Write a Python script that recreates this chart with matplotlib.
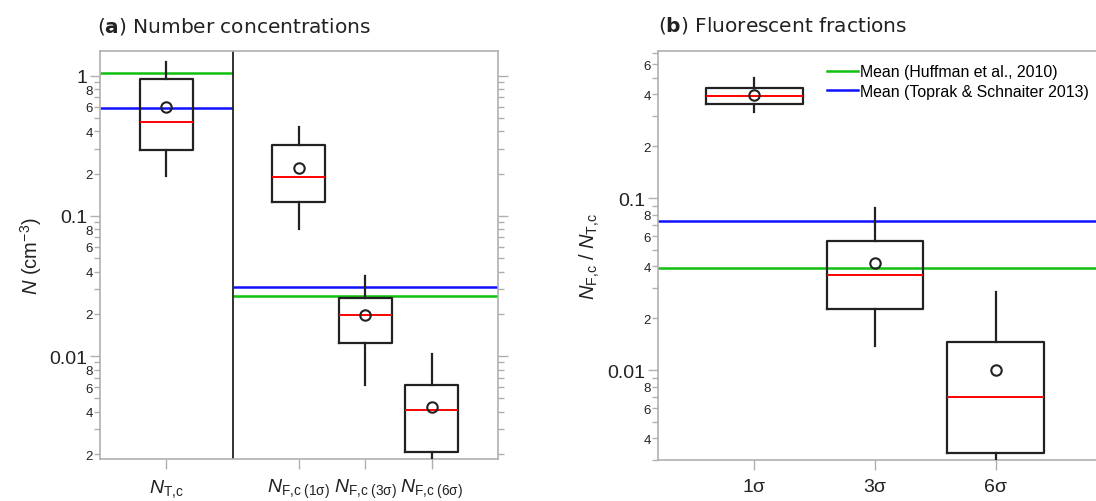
import matplotlib
matplotlib.use("Agg")
import numpy as np
import matplotlib.pyplot as plt
from matplotlib.ticker import LogLocator, FuncFormatter, FixedLocator

plt.rcParams["font.family"] = ["Liberation Sans", "DejaVu Sans"]
plt.rcParams["mathtext.fontset"] = "custom"
plt.rcParams["mathtext.rm"] = "Liberation Sans"
plt.rcParams["mathtext.it"] = "Liberation Sans:italic"
plt.rcParams["mathtext.bf"] = "Liberation Sans:bold"

# (a) number concentrations, cm^-3
a_labels = [r"$N_{\mathrm{T{,}c}}$", r"$N_{\mathrm{F{,}c\ (1σ)}}$",
            r"$N_{\mathrm{F{,}c\ (3σ)}}$", r"$N_{\mathrm{F{,}c\ (6σ)}}$"]
a_pos = [1, 3, 4, 5]
a_whislo = [0.192, 0.080, 0.00618, 0.0015]
a_q1 = [0.294, 0.126, 0.0124, 0.00207]
a_med = [0.466, 0.188, 0.0195, 0.00413]
a_q3 = [0.944, 0.32, 0.0258, 0.00618]
a_whishi = [1.25, 0.426, 0.0371, 0.0104]
a_mean = [0.593, 0.22, 0.0197, 0.00434]
a_huffman = [1.05, 0.0270]   # total, fluorescent
a_toprak = [0.586, 0.0312]

# (b) fluorescent fractions
b_labels = ["1σ", "3σ", "6σ"]
b_whislo = [0.315, 0.01384, 0.0025]
b_q1 = [0.352, 0.02253, 0.0033]
b_med = [0.394, 0.0356, 0.0070]
b_q3 = [0.434, 0.0562, 0.0145]
b_whishi = [0.497, 0.0871, 0.0285]
b_mean = [0.395, 0.0419, 0.0100]
b_huffman = 0.039
b_toprak = 0.0738

GREEN = "#10c010"
BLUE = "#1010ff"
SPINE = "#b0b0b0"
INK = "#222222"


def make_stats(lo, q1, med, q3, hi, mean):
    return [dict(whislo=a, q1=b, med=c, q3=d, whishi=e, mean=f, fliers=[])
            for a, b, c, d, e, f in zip(lo, q1, med, q3, hi, mean)]


def draw_boxes(ax, stats, positions):
    ax.bxp(stats, positions=positions, widths=0.8, showmeans=True,
           showcaps=False, showfliers=False,
           boxprops=dict(color=INK, lw=1.6),
           whiskerprops=dict(color=INK, lw=1.6),
           medianprops=dict(color="red", lw=1.4),
           meanprops=dict(marker="o", mfc="none", mec=INK, mew=1.5, ms=7.5),
           zorder=3)


def style_log_axis(ax):
    ax.set_yscale("log")
    ax.yaxis.set_major_locator(LogLocator(base=10, numticks=10))
    ax.yaxis.set_minor_locator(LogLocator(base=10, subs=np.arange(2, 10), numticks=20))
    ax.yaxis.set_major_formatter(FuncFormatter(lambda v, p: f"{v:g}"))

    def minor_fmt(v, p):
        d = int(round(v / 10 ** np.floor(np.log10(v) + 1e-9)))
        return str(d) if d in (2, 4, 6, 8) else ""
    ax.yaxis.set_minor_formatter(FuncFormatter(minor_fmt))
    ax.tick_params(axis="y", which="major", labelsize=14, length=7, width=1,
                   color=SPINE, labelcolor=INK, pad=2)
    ax.tick_params(axis="y", which="minor", labelsize=9.5, length=4, width=1,
                   color=SPINE, labelcolor=INK, pad=1)
    ax.tick_params(axis="x", which="major", length=7, width=1, color=SPINE,
                   labelcolor=INK, pad=6)
    ax.tick_params(axis="x", which="minor", bottom=False)
    for s in ax.spines.values():
        s.set_color(SPINE)
        s.set_linewidth(1.2)


def title(ax, letter, text, x, y):
    ax.text(x, y, r"($\bf{" + letter + r"}$) " + text, transform=ax.transAxes,
            fontsize=14.5, family="DejaVu Sans", math_fontfamily="dejavusans",
            va="baseline", ha="left", color=INK)


fig = plt.figure(figsize=(10.96, 5.02), dpi=100)

# ---- panel a ----
ax1 = fig.add_axes([0.0912, 0.0837, 0.3631, 0.8127])
style_log_axis(ax1)
ax1.set_xlim(0, 6)
ax1.set_ylim(0.001845, 1.495)
ax1.hlines([a_huffman[0]], 0, 2, color=GREEN, lw=1.8, zorder=2)
ax1.hlines([a_toprak[0]], 0, 2, color=BLUE, lw=1.8, zorder=2)
ax1.hlines([a_huffman[1]], 2, 6, color=GREEN, lw=1.8, zorder=2)
ax1.hlines([a_toprak[1]], 2, 6, color=BLUE, lw=1.8, zorder=2)
ax1.axvline(2, color=INK, lw=1.3, zorder=2)
draw_boxes(ax1, make_stats(a_whislo, a_q1, a_med, a_q3, a_whishi, a_mean), a_pos)
ax1.xaxis.set_major_locator(FixedLocator(a_pos))
ax1.set_xticklabels(a_labels, fontsize=14)
ax1.tick_params(axis="y", which="both", right=True)
ax1.set_ylabel(r"$N$ (cm$^{-3}$)", fontsize=14.5, color=INK, labelpad=4)
title(ax1, "a", "Number concentrations", -0.008, 1.049)

# ---- panel b ----
ax2 = fig.add_axes([0.6004, 0.0817, 0.4015, 0.8147])
style_log_axis(ax2)
ax2.set_xlim(0.2, 3.85)
ax2.set_ylim(0.0030, 0.7156)
ax2.axhline(b_huffman, color=GREEN, lw=1.8, zorder=2, label="Mean (Huffman et al., 2010)")
ax2.axhline(b_toprak, color=BLUE, lw=1.8, zorder=2, label="Mean (Toprak & Schnaiter 2013)")
draw_boxes(ax2, make_stats(b_whislo, b_q1, b_med, b_q3, b_whishi, b_mean), [1, 2, 3])
ax2.xaxis.set_major_locator(FixedLocator([1, 2, 3]))
ax2.set_xticklabels(b_labels, fontsize=14)
ax2.spines["right"].set_visible(False)
ax2.set_ylabel(r"$N_{\mathrm{F{,}c}}$ / $N_{\mathrm{T{,}c}}$", fontsize=14.5, color=INK, labelpad=4)
ax2.legend(loc="upper left", bbox_to_anchor=(0.385, 0.968), frameon=False,
           fontsize=11.4, handlelength=1.9, handletextpad=0.15, labelspacing=0.28,
           borderpad=0, borderaxespad=0)
title(ax2, "b", "Fluorescent fractions", 0.0, 1.0496)

fig.savefig("out.png", dpi=100)
